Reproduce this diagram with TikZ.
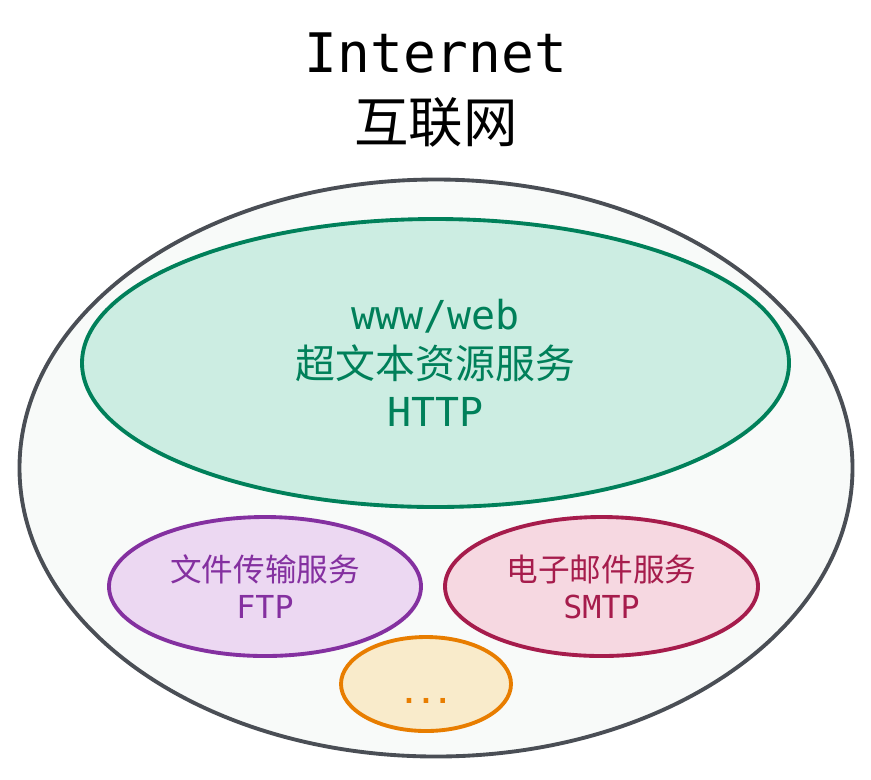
\documentclass[tikz,border=0pt]{standalone}
\usepackage{fontspec}
\setmonofont{DejaVu Sans Mono}
\newfontfamily\cjk{Noto Sans CJK SC}
\usetikzlibrary{shapes.geometric}
\usetikzlibrary{positioning}

\definecolor{netline}{HTML}{4A4E55}
\definecolor{netfill}{HTML}{F8FAF9}
\definecolor{webline}{HTML}{00805A}
\definecolor{webfill}{HTML}{CCEDE2}
\definecolor{ftpline}{HTML}{8430A0}
\definecolor{ftpfill}{HTML}{ECD8F2}
\definecolor{mailline}{HTML}{A61C4C}
\definecolor{mailfill}{HTML}{F6D8E1}
\definecolor{moreline}{HTML}{E87D00}
\definecolor{morefill}{HTML}{F9EBCB}

\tikzset{
    service/.style={ellipse, inner sep=0pt, line width=2.2pt, align=center}
}

\begin{document}
\begin{tikzpicture}
    \useasboundingbox (0,0) rectangle (17.42,-15.58);

    \node (title) [align=center, font=\fontsize{31}{40}\selectfont] at (8.72,-1.80) {\ttfamily Internet\\\cjk 互联网};

    \node (internet) [service, draw=netline, fill=netfill, minimum width=16.66cm, minimum height=11.54cm] at (8.72,-9.36) {};

    \node (web) [service, draw=webline, fill=webfill, text=webline, minimum width=14.14cm, minimum height=5.76cm, font=\fontsize{22.7}{27.5}\selectfont] at (8.71,-7.26) {\ttfamily www/web\\\cjk 超文本资源服务\\\ttfamily HTTP};

    \node (ftp) [service, draw=ftpline, fill=ftpfill, text=ftpline, minimum width=6.24cm, minimum height=2.78cm, font=\fontsize{18}{21}\selectfont] at (5.30,-11.73) {\cjk 文件传输服务\\\ttfamily FTP};
    \node (mail) [service, draw=mailline, fill=mailfill, text=mailline, minimum width=6.26cm, minimum height=2.78cm, font=\fontsize{18}{21}\selectfont] at (12.03,-11.73) {\cjk 电子邮件服务\\\ttfamily SMTP};

    \node (more) [service, draw=moreline, fill=morefill, text=moreline, minimum width=3.40cm, minimum height=1.88cm, text height=22pt, text depth=0pt, font=\fontsize{16}{18}\selectfont\bfseries] at (8.52,-13.68) {\ttfamily ...};
\end{tikzpicture}
\end{document}
